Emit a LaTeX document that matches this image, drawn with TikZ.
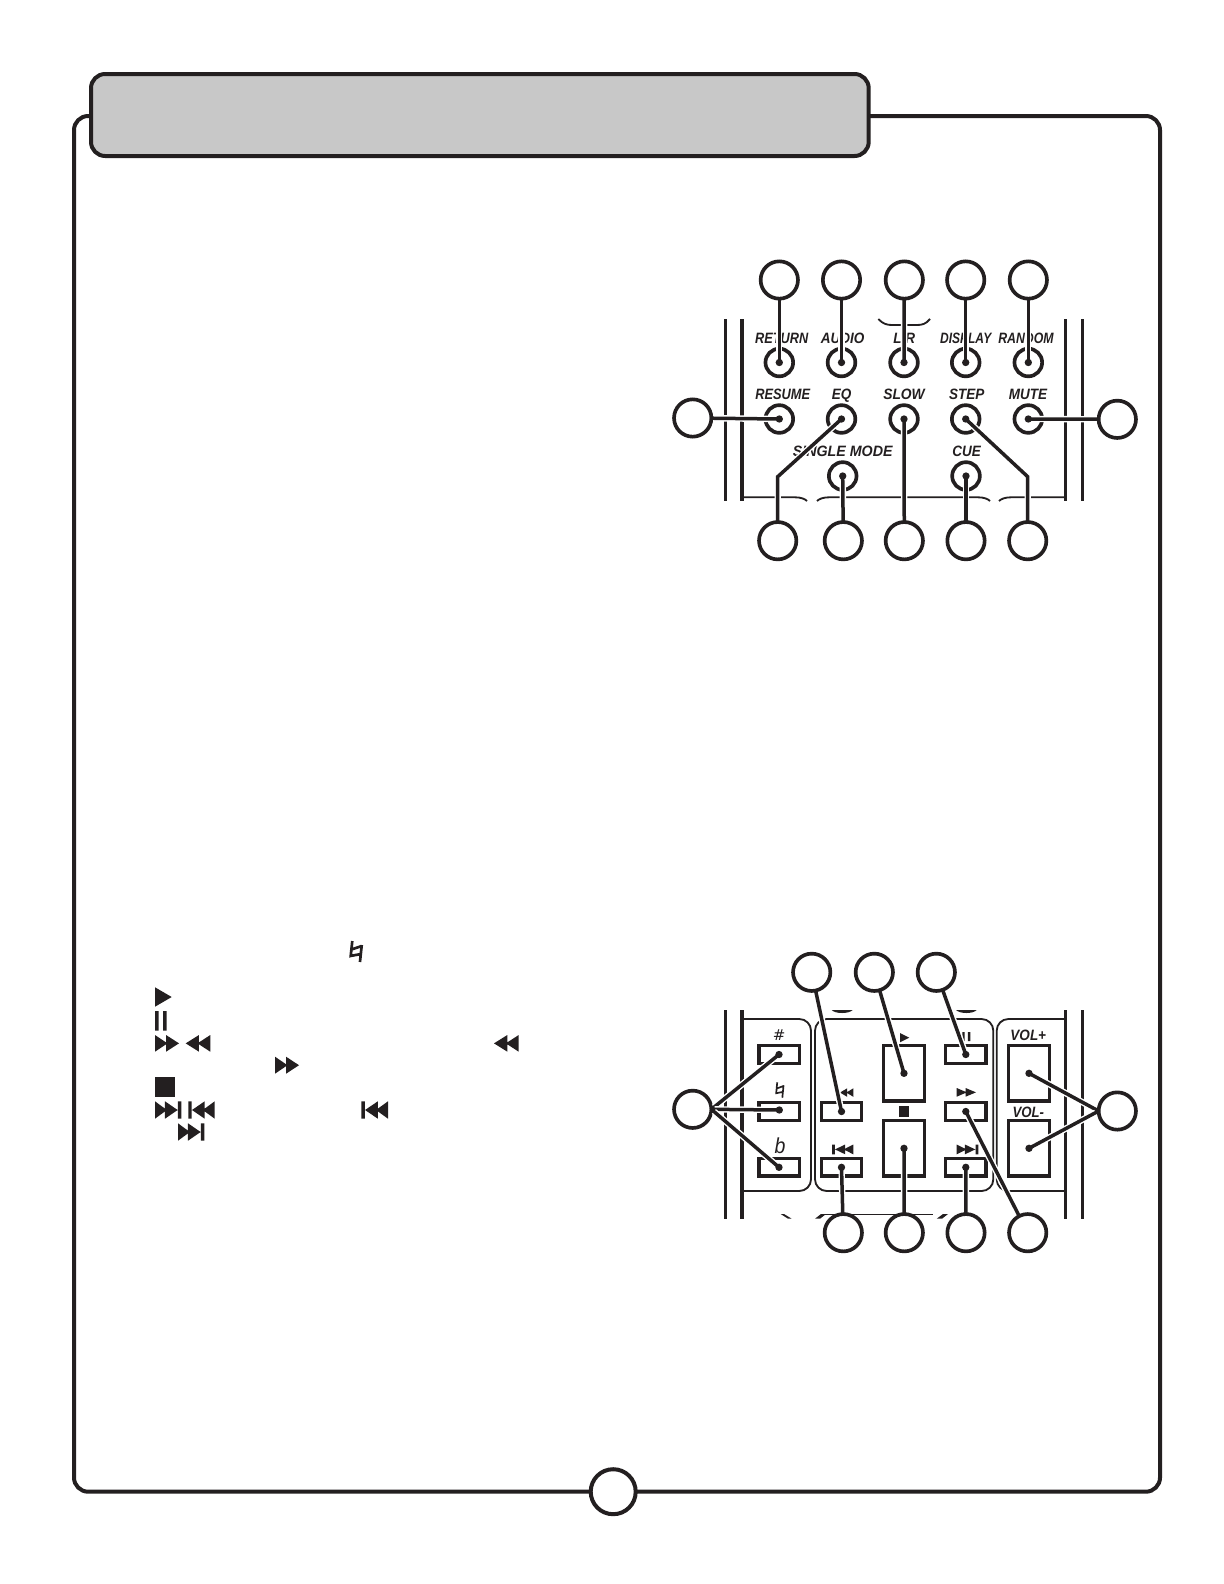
\documentclass[tikz,border=0pt]{standalone}
\usepackage{fontspec}
\usepackage{graphicx}
\setmainfont{Liberation Sans}
\newfontfamily\dejavu{DejaVu Sans}
\definecolor{ink}{HTML}{231F20}
\definecolor{band}{HTML}{C8C8C8}
\newcommand\lbl[2][.88]{\scalebox{#1}[1]{#2}}
\def\icFF{(0,0)--(.52,.5)--(0,1)--cycle (.46,0)--(1,.5)--(.46,1)--cycle}
\def\icRW{(1,0)--(.48,.5)--(1,1)--cycle (.54,0)--(0,.5)--(.54,1)--cycle}
\def\icNX{(0,0)--(.45,.5)--(0,1)--cycle (.38,0)--(.86,.5)--(.38,1)--cycle (.87,0) rectangle (1,1)}
\def\icPV{(1,0)--(.55,.5)--(1,1)--cycle (.62,0)--(.14,.5)--(.62,1)--cycle (0,0) rectangle (.13,1)}
\def\icPL{(0,0)--(1,.5)--(0,1)--cycle}
\def\icST{(0,0) rectangle (1,1)}
\def\icPA{(0,0) rectangle (.3,1) (.7,0) rectangle (1,1)}
\def\icNAT{(.19,0)--(.06,.71)--(.92,.62) (.98,.19)--(.83,1) (.14,.4)--(.98,.24)}
\newcommand\icon[5]{\fill[ink,shift={(#2,#3)},xscale=#4,yscale=#5] #1;}
\newcommand\naticon[5]{\draw[ink,line width=#1,shift={(#2,#3)},xscale=#4,yscale=#5] \icNAT;}
\tikzset{
  x=0.6pt,y=-0.6pt,
  frameline/.style={draw=ink,line width=2.4pt,rounded corners=8.5pt},
  callout/.style={circle,draw=ink,line width=2.2pt,fill=white,minimum size=22.4pt,inner sep=0pt,outer sep=0pt},
  pagecircle/.style={circle,draw=ink,line width=2.4pt,fill=white,minimum size=27pt,inner sep=0pt},
  roundbtn/.style={circle,draw=ink,line width=2.2pt,minimum size=16.6pt,inner sep=0pt,outer sep=0pt},
  smallbtn/.style={rectangle,draw=ink,line width=2pt,minimum width=24.2pt,minimum height=10.6pt,inner sep=0pt},
  bigbtn/.style={rectangle,draw=ink,line width=2pt,minimum width=24.4pt,minimum height=33.2pt,inner sep=0pt},
  rail/.style={draw=ink,line width=2.1pt},
  thinline/.style={draw=ink,line width=1.1pt},
  keylabel/.style={inner sep=0pt,text=ink,text height=6.5pt,text depth=0pt,font=\fontsize{9}{10}\selectfont\bfseries\itshape},
  symlabel/.style={inner sep=0pt,text=ink,font=\dejavu\fontsize{9}{10}\selectfont},
  conn/.style={preaction={draw=white,line width=3.8pt,shorten <=2pt},draw=ink,line width=2.1pt},
  enddot/.style={fill=ink},
}
\begin{document}
\begin{tikzpicture}
\useasboundingbox (0,0) rectangle (1224,1584);
\fill[white] (0,0) rectangle (1224,1584);

% page frame and header band
\draw[frameline] (74,116) rectangle (1160,1491.7);
\draw[frameline,fill=band] (91,74) rectangle (868.7,156);
\node[pagecircle] (page) at (613.2,1491.7) {};

% ---------- upper remote panel ----------
\foreach \x in {725.3,742,1065.7,1082.7} \draw[rail] (\x,319) -- (\x,501);
\draw[thinline] (878.3,319) .. controls (883,324) and (887,325) .. (892,325) -- (917,325) .. controls (922,325) and (926,324) .. (930,319);
\draw[thinline] (742,497.3) -- (795,497.3) .. controls (801,497.3) and (805,499) .. (807,501);
\draw[thinline] (817,501) .. controls (819,499) and (823,497.3) .. (829,497.3) -- (978,497.3) .. controls (984,497.3) and (988,499) .. (990,501);
\draw[thinline] (999,501) .. controls (1001,499) and (1005,497.3) .. (1011,497.3) -- (1065.7,497.3);

\node[keylabel] (lreturn) at (781.7,338) {\lbl[.85]{RETURN}};
\node[keylabel] (laudio) at (842.7,338) {\lbl[.9]{AUDIO}};
\node[keylabel] (llr) at (904.3,338) {\lbl[.9]{L/R}};
\node[keylabel] (ldisplay) at (965.7,338) {\lbl[.8]{DISPLAY}};
\node[keylabel] (lrandom) at (1026,338) {\lbl[.82]{RANDOM}};
\node[keylabel] (lresume) at (782.7,394) {\lbl[.855]{RESUME}};
\node[keylabel] (leq) at (841.7,394) {\lbl[.9]{EQ}};
\node[keylabel] (lslow) at (904,394) {\lbl[.92]{SLOW}};
\node[keylabel] (lstep) at (966.7,394) {\lbl[.9]{STEP}};
\node[keylabel] (lmute) at (1028,394) {\lbl[.9]{MUTE}};
\node[keylabel] (lsingle) at (842.7,451.5) {\lbl[.95]{SINGLE MODE}};
\node[keylabel] (lcue) at (966.7,451.5) {\lbl[.9]{CUE}};

\node[roundbtn] (bret) at (779.3,362.5) {};
\node[roundbtn] (baud) at (841.5,362.5) {};
\node[roundbtn] (blr) at (904,362.5) {};
\node[roundbtn] (bdis) at (965.7,362.5) {};
\node[roundbtn] (bran) at (1028.3,362.5) {};
\node[roundbtn] (bres) at (779.3,419) {};
\node[roundbtn] (beq) at (841.5,419) {};
\node[roundbtn] (bslo) at (904,419) {};
\node[roundbtn] (bste) at (965.7,419) {};
\node[roundbtn] (bmut) at (1028.3,419) {};
\node[roundbtn] (bsin) at (842.7,476) {};
\node[roundbtn] (bcue) at (966,476) {};

\node[callout] (ut1) at (779.3,280) {};
\node[callout] (ut2) at (841.5,280) {};
\node[callout] (ut3) at (904.3,280) {};
\node[callout] (ut4) at (965.7,280) {};
\node[callout] (ut5) at (1028.3,280) {};
\node[callout] (ul) at (692.7,418) {};
\node[callout] (ur) at (1117.3,419.3) {};
\node[callout] (ub1) at (777.7,540.7) {};
\node[callout] (ub2) at (843.3,540.7) {};
\node[callout] (ub3) at (904.3,540.7) {};
\node[callout] (ub4) at (966,540.7) {};
\node[callout] (ub5) at (1027.7,540.7) {};
\coordinate (kneeq) at (777.7,476.7);
\coordinate (knste) at (1027.7,476.7);

\draw[conn] (ut1) -- (bret.center);
\draw[conn] (ut2) -- (baud.center);
\draw[conn] (ut3) -- (blr.center);
\draw[conn] (ut4) -- (bdis.center);
\draw[conn] (ut5) -- (bran.center);
\draw[conn] (ul) -- (bres.center);
\draw[conn] (ur) -- (bmut.center);
\draw[conn] (ub1) -- (kneeq) -- (beq.center);
\draw[conn] (ub2) -- (bsin.center);
\draw[conn] (ub3) -- (bslo.center);
\draw[conn] (ub4) -- (bcue.center);
\draw[conn] (ub5) -- (knste) -- (bste.center);
\foreach \d in {bret,baud,blr,bdis,bran,bres,beq,bslo,bste,bmut,bsin,bcue}
  \fill[enddot] (\d.center) circle[radius=2.2pt];

% ---------- lower remote panel ----------
\foreach \x in {725.3,742,1065.7,1082.7} \draw[rail] (\x,1010) -- (\x,1218.7);
\draw[thinline,rounded corners=7pt] (742,1019) -- (811,1019) -- (811,1191) -- (742,1191);
\draw[thinline,rounded corners=7pt] (815,1019) rectangle (993.3,1191);
\draw[thinline,rounded corners=7pt] (1065.7,1019) -- (996.7,1019) -- (996.7,1191) -- (1065.7,1191);
\fill[ink] (831.7,1010) .. controls (835,1014) and (849,1014) .. (852.7,1010) -- cycle;
\fill[ink] (956,1010) .. controls (960,1014) and (973,1014) .. (976.7,1010) -- cycle;
\fill[ink] (780.7,1214) -- (784,1214) -- (791.7,1218.7) -- (788,1218.7) -- cycle;
\fill[ink] (815,1218.7) -- (821,1214) -- (826,1214) -- (820,1218.7) -- cycle;
\draw[ink,line width=.8pt] (824,1214.5) -- (933.3,1214.5);
\fill[ink] (936.7,1218.7) -- (943,1214) -- (948,1214) -- (942,1218.7) -- cycle;

\node[smallbtn] (bsharp) at (779,1054.5) {};
\node[smallbtn] (bnat) at (779,1111.5) {};
\node[smallbtn] (bflat) at (779,1167.3) {};
\node[smallbtn] (brew) at (841.5,1111.5) {};
\node[smallbtn] (bprev) at (841.5,1167.3) {};
\node[bigbtn] (bplay) at (904,1073.3) {};
\node[bigbtn] (bstop) at (904,1148.3) {};
\node[smallbtn] (bpause) at (965.8,1054.5) {};
\node[smallbtn] (bff) at (965.8,1111.5) {};
\node[smallbtn] (bnext) at (965.8,1167.3) {};
\node[bigbtn] (bvolp) at (1029,1073.3) {};
\node[bigbtn] (bvolm) at (1029,1148.3) {};

\node[symlabel] (lsharp) at (779.2,1035) {\#};
\naticon{1pt}{775.7}{1082.3}{8}{15.4}
\node[inner sep=0pt,text=ink,font=\fontsize{13}{14}\selectfont\itshape] (lflat) at (780,1146) {\lbl[.9]{b}};
\node[keylabel] (lvolp) at (1028.3,1035.3) {\lbl[.9]{VOL+}};
\node[keylabel] (lvolm) at (1028.3,1112) {\lbl[.88]{VOL-}};
\icon{\icPL}{900}{1033}{9.3}{9.3}
\icon{\icPA}{962.3}{1032}{8}{9}
\icon{\icRW}{840}{1088.3}{13.3}{8.5}
\icon{\icFF}{956.7}{1088}{19.3}{8.7}
\icon{\icST}{898.7}{1106}{10.6}{10.6}
\icon{\icPV}{832}{1144.5}{21.3}{9.8}
\icon{\icNX}{956.7}{1144.5}{21.6}{9.8}

\node[callout] (lt1) at (811.7,972.3) {};
\node[callout] (lt2) at (874.3,972.3) {};
\node[callout] (lt3) at (936.3,972.3) {};
\node[callout] (ll) at (692.7,1109.3) {};
\node[callout] (lr) at (1117.3,1111) {};
\node[callout] (lb1) at (843.3,1232.7) {};
\node[callout] (lb2) at (904.3,1232.7) {};
\node[callout] (lb3) at (966,1232.7) {};
\node[callout] (lb4) at (1027.7,1232.7) {};
\coordinate (dnat) at (779.3,1110);

\draw[conn] (lt1) -- (brew.center);
\draw[conn] (lt2) -- (bplay.center);
\draw[conn] (lt3) -- (bpause.center);
\draw[conn] (ll.east) -- (bsharp.center);
\draw[conn] (ll.east) -- (dnat);
\draw[conn] (ll.east) -- (bflat.center);
\draw[conn] (lr.west) -- (bvolp.center);
\draw[conn] (lr.west) -- (bvolm.center);
\draw[conn] (lb1) -- (bprev.center);
\draw[conn] (lb2) -- (bstop.center);
\draw[conn] (lb3) -- (bnext.center);
\draw[conn] (lb4) -- (bff.center);
\foreach \d in {brew,bplay,bpause,bsharp,dnat,bflat,bvolp,bvolm,bprev,bstop,bnext,bff}
  \fill[enddot] (\d.center) circle[radius=2.2pt];

% ---------- symbols in the body column ----------
\naticon{1.6pt}{350}{941}{12}{21}
\icon{\icPL}{155}{987.3}{16.7}{19.4}
\icon{\icPA}{155}{1011}{11.7}{19.7}
\icon{\icFF}{155}{1035}{24}{16.7}
\icon{\icRW}{185.7}{1035}{24.6}{16.7}
\icon{\icRW}{494}{1035}{24.7}{16.7}
\icon{\icFF}{275}{1056.7}{24}{17}
\icon{\icST}{155}{1077}{19.7}{19.7}
\icon{\icNX}{155}{1101.3}{26.3}{17.4}
\icon{\icPV}{188.3}{1101.3}{26.4}{17.4}
\icon{\icPV}{361.3}{1101.3}{26.7}{17.4}
\icon{\icNX}{178}{1123.3}{26.3}{17.4}
\end{tikzpicture}
\end{document}
